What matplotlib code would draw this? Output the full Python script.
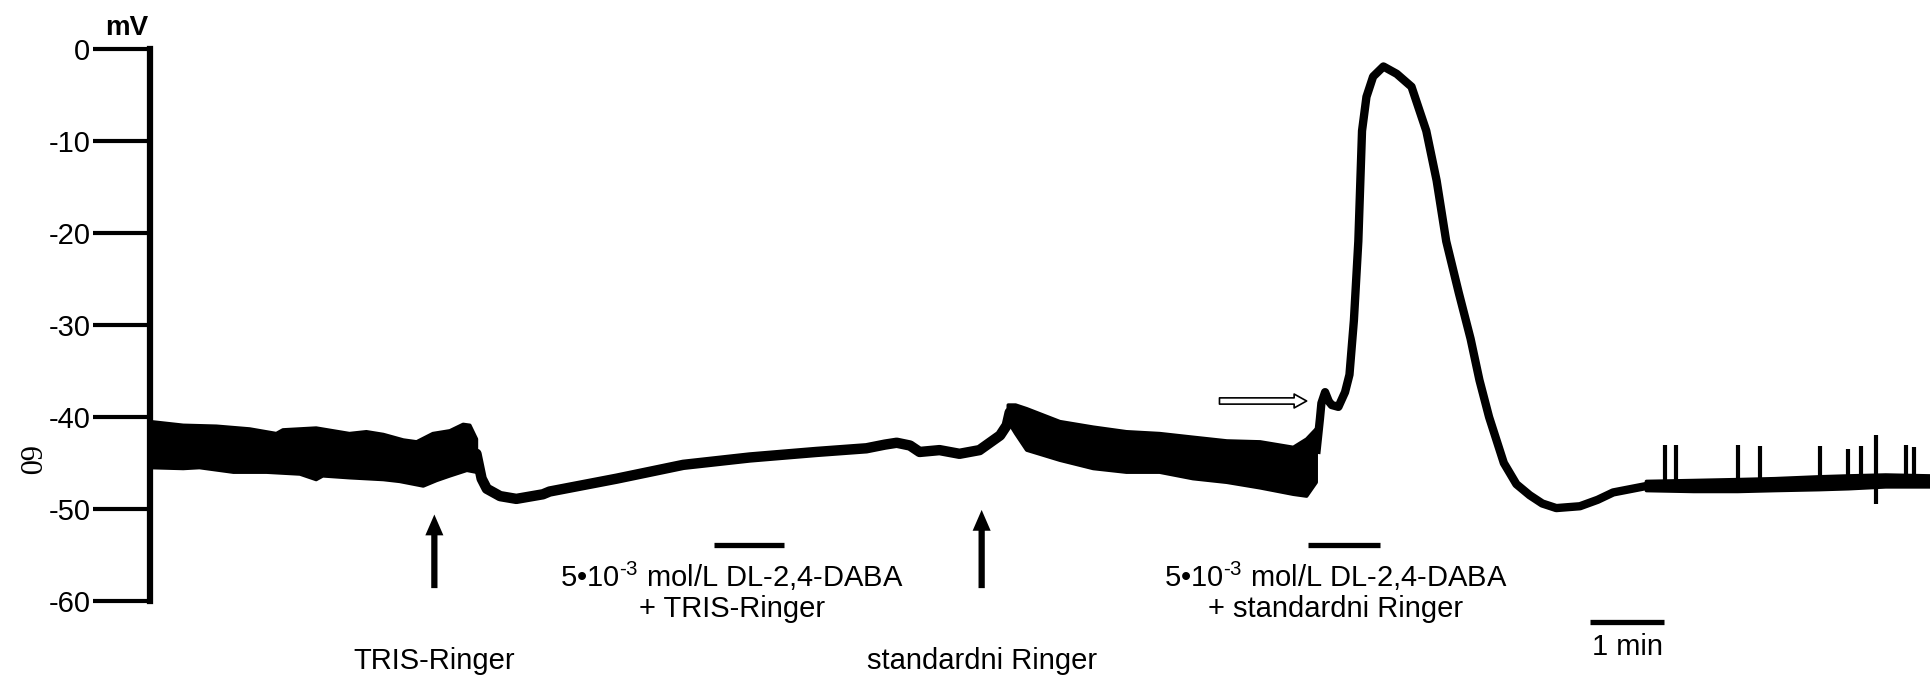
import numpy as np
import matplotlib.pyplot as plt
plt.switch_backend('agg')

plt.rcParams['font.family'] = 'Liberation Sans'
plt.rcParams['axes.unicode_minus'] = False
plt.rcParams['mathtext.fontset'] = 'custom'
plt.rcParams['mathtext.rm'] = 'Liberation Sans'
plt.rcParams['mathtext.it'] = 'Liberation Sans:italic'
plt.rcParams['mathtext.bf'] = 'Liberation Sans:bold'

# time in minutes, potential in mV

# noisy band, TRIS-Ringer period
band1_top_t = [0.00, 0.45, 0.90, 1.35, 1.71, 1.80, 2.25, 2.70, 2.93, 3.16,
               3.43, 3.61, 3.83, 4.06, 4.24, 4.33, 4.42]
band1_top = [-40.5, -40.9, -41.0, -41.3, -41.8, -41.4, -41.2, -41.8, -41.6,
             -41.9, -42.5, -42.7, -41.8, -41.5, -40.8, -40.9, -42.4]
band1_bot_t = [0.00, 0.45, 0.67, 1.13, 1.58, 2.03, 2.25, 2.34, 2.70, 3.16,
               3.38, 3.70, 3.88, 4.06, 4.29, 4.42]
band1_bot = [-45.5, -45.6, -45.5, -46.0, -46.0, -46.2, -46.8, -46.4, -46.6,
             -46.8, -47.0, -47.5, -46.9, -46.4, -45.8, -46.0]

# noisy band after return to standard Ringer
band2_t = [11.62, 11.72, 11.87, 12.32, 12.77, 13.22, 13.67, 14.12, 14.58,
           15.03, 15.48, 15.66, 15.79]
band2_top = [-38.7, -38.7, -39.1, -40.5, -41.1, -41.6, -41.8, -42.2, -42.6,
             -42.7, -43.3, -42.4, -41.3]
band2_bot = [-40.5, -41.8, -43.6, -44.7, -45.6, -46.0, -46.0, -46.7, -47.1,
             -47.7, -48.4, -48.6, -47.1]

# late baseline band
band3_t = [20.26, 20.90, 21.50, 22.00, 22.60, 23.00, 23.50, 24.10]
band3_top = [-47.0, -46.9, -46.8, -46.7, -46.5, -46.4, -46.3, -46.4]
band3_bot = [-48.0, -48.1, -48.1, -48.0, -47.9, -47.8, -47.6, -47.6]

# smooth parts of the trace
slow_t = [4.42, 4.49, 4.56, 4.74, 4.96, 5.32, 5.41, 6.32, 7.22, 8.12, 9.02,
          9.70, 9.95, 10.11, 10.29, 10.42, 10.69, 10.96, 11.23, 11.51, 11.60,
          11.64]
slow_v = [-44.0, -46.7, -47.8, -48.6, -48.9, -48.4, -48.1, -46.7, -45.2,
          -44.4, -43.8, -43.4, -43.0, -42.8, -43.1, -43.8, -43.6, -44.0,
          -43.6, -42.0, -40.9, -39.5]

peak_t = [15.79, 15.84, 15.86, 15.91, 15.96, 16.00, 16.09, 16.18, 16.24,
          16.30, 16.36, 16.41, 16.47, 16.56, 16.70, 16.88, 17.08, 17.28,
          17.42, 17.55, 17.72, 17.88, 18.00, 18.13, 18.33, 18.50, 18.68,
          18.85, 19.04, 19.36, 19.60, 19.81, 20.26, 20.90, 21.50, 22.00,
          22.60, 23.00, 23.50, 24.10]
peak_v = [-44.0, -40.2, -38.5, -37.3, -38.3, -38.7, -38.9, -37.3, -35.4,
          -29.5, -20.9, -8.9, -5.2, -3.0, -1.9, -2.7, -4.1, -8.9, -14.3,
          -20.9, -26.5, -31.5, -36.0, -40.0, -45.0, -47.3, -48.5, -49.4,
          -49.9, -49.7, -49.0, -48.2, -47.5, -47.5, -47.4, -47.4, -47.2,
          -47.1, -46.9, -47.0]

# spikes on the late baseline
spike_t = [20.51, 20.66, 21.50, 21.80, 22.61, 22.99, 23.17, 23.37, 23.77, 23.88]
spike_top = [-43.0, -43.0, -43.0, -43.1, -43.1, -43.5, -43.1, -42.0, -43.0, -43.3]
spike_bot = [-47.3, -47.3, -47.5, -47.3, -47.2, -47.4, -47.1, -49.5, -47.0, -47.0]

yticks = [0, -10, -20, -30, -40, -50, -60]

fig = plt.figure(figsize=(19.3, 6.75), dpi=100)
ax = fig.add_axes([150 / 1930, 1 - 601 / 675, 1780 / 1930, 552 / 675])
ax.set_xlim(0, 24.10)
ax.set_ylim(-60, 0)


def draw_band(t_top, top, t_bot, bot):
    xs = np.r_[t_top, t_bot[::-1]]
    ys = np.r_[top, bot[::-1]]
    ax.fill(xs, ys, color='black', lw=2.5, joinstyle='round')


draw_band(band1_top_t, band1_top, band1_bot_t, band1_bot)
draw_band(band2_t, band2_top, band2_t, band2_bot)
draw_band(band3_t, band3_top, band3_t, band3_bot)

ax.plot(slow_t, slow_v, color='black', lw=7.5, solid_joinstyle='round',
        solid_capstyle='round')
ax.plot(peak_t, peak_v, color='black', lw=6, solid_joinstyle='round',
        solid_capstyle='butt')
ax.vlines(spike_t, spike_bot, spike_top, color='black', lw=3)

# axes styling
for s in ('top', 'right', 'bottom'):
    ax.spines[s].set_visible(False)
ax.spines['left'].set_linewidth(4.5)
ax.spines['left'].set_bounds(-60, 0)
ax.set_xticks([])
ax.set_yticks(yticks)
ax.set_yticklabels([str(v) for v in yticks])
ax.tick_params(axis='y', length=41, width=3, direction='out', pad=2,
               labelsize=21)

ax.text(-0.03, 2.3, 'mV', fontsize=20, fontweight='bold', ha='right',
        va='center', clip_on=False)
fig.text(26 / 1930, 1 - 461 / 675, '60', family='Liberation Serif',
         fontsize=22, rotation=270, ha='center', va='center')

# solution change markers
fs = 21
conc = '5\u202210$^{\u20103}$ mol/L DL-2,4-DABA'
arrow_kw = dict(arrowstyle='simple,head_length=1.5,head_width=1.3,tail_width=0.45',
                fc='black', ec='black', lw=0, shrinkA=0, shrinkB=0)
ax.annotate('', xy=(3.85, -50.6), xytext=(3.85, -58.6), arrowprops=arrow_kw,
            annotation_clip=False)
ax.text(3.85, -66.5, 'TRIS-Ringer', fontsize=fs, ha='center', va='center',
        clip_on=False)
ax.annotate('', xy=(11.26, -50.1), xytext=(11.26, -58.6), arrowprops=arrow_kw,
            annotation_clip=False)
ax.text(11.26, -66.5, 'standardni Ringer', fontsize=fs, ha='center',
        va='center', clip_on=False)

ax.plot([7.63, 8.59], [-53.9, -53.9], color='black', lw=3.8,
        solid_capstyle='butt', clip_on=False)
ax.text(7.88, -57.3, conc, fontsize=fs, ha='center', va='center',
        clip_on=False)
ax.text(7.88, -60.9, '+ TRIS-Ringer', fontsize=fs, ha='center', va='center',
        clip_on=False)

ax.plot([15.68, 16.65], [-53.9, -53.9], color='black', lw=3.8,
        solid_capstyle='butt', clip_on=False)
ax.text(16.05, -57.3, conc, fontsize=fs, ha='center', va='center',
        clip_on=False)
ax.text(16.05, -60.9, '+ standardni Ringer', fontsize=fs, ha='center',
        va='center', clip_on=False)

ax.annotate('', xy=(15.66, -38.26), xytext=(14.48, -38.26),
            arrowprops=dict(arrowstyle='simple,head_length=0.9,head_width=1.0,tail_width=0.45',
                            fc='white', ec='black', lw=1.2,
                            shrinkA=0, shrinkB=0))

# time scale bar
ax.plot([19.5, 20.5], [-62.3, -62.3], color='black', lw=3.8,
        solid_capstyle='butt', clip_on=False)
ax.text(20.0, -65.0, '1 min', fontsize=fs, ha='center', va='center',
        clip_on=False)

fig.savefig('out.png', dpi=100)
